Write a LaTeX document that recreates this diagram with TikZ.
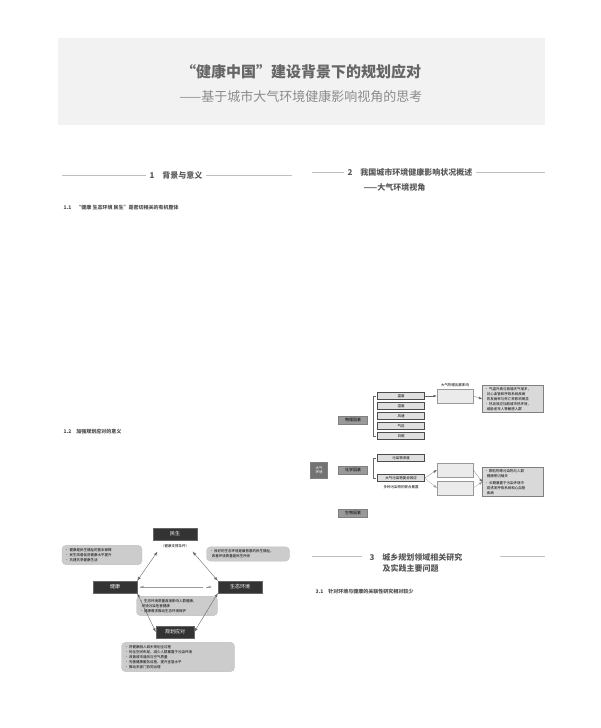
\documentclass[tikz,border=0pt]{standalone}
\usepackage{fontspec}
\setmainfont{Noto Sans CJK SC}
\usetikzlibrary{positioning}
\tikzset{
  darkbox/.style={draw=black!60, fill=black!80, text=white, minimum width=44pt, minimum height=12pt, inner sep=1pt, font=\fontsize{5}{6}\selectfont},
  notebox/.style={draw=black!25, fill=black!20, rounded corners=4pt, align=left, inner sep=3pt, font=\fontsize{3.5}{5}\selectfont},
  subbox/.style={draw=black!70, fill=black!12, minimum width=47pt, minimum height=7pt, inner sep=0pt, font=\fontsize{3.5}{4}\selectfont},
  catbox/.style={draw=black!50, fill=black!40, minimum width=29pt, minimum height=8pt, inner sep=0pt, font=\fontsize{4}{5}\selectfont},
  midbox/.style={draw=black!40, fill=black!8, minimum width=36pt, minimum height=14pt, inner sep=0pt},
  sidenote/.style={draw=black!50, fill=black!15, align=left, inner sep=2pt, font=\fontsize{3.5}{5}\selectfont},
  link/.style={draw=black!60, thin, latex-latex},
  rule/.style={draw=black!25, very thin},
  heading/.style={font=\bfseries\fontsize{8}{11}\selectfont, text=black!65},
  subhead/.style={font=\bfseries\fontsize{5}{6}\selectfont, text=black!70, anchor=west},
}
\begin{document}
\begin{tikzpicture}[x=1pt,y=-1pt]
  \useasboundingbox (0,0) rectangle (600,728);
  % title
  \fill[black!5] (58,38) rectangle (545,125);
  \node[font=\bfseries\fontsize{15}{16}\selectfont, text=black!60] (title) at (301,72) {“健康中国”建设背景下的规划应对};
  \node[font=\fontsize{13}{14}\selectfont, text=black!45] (subtitle) at (301,97) {——基于城市大气环境健康影响视角的思考};
  % section headings
  \node[heading] (sec1) at (176,175) {1\quad 背景与意义};
  \draw[rule] (62,175) -- (sec1.west);
  \draw[rule] (sec1.east) -- (292,175);
  \node[heading, anchor=west] (sec2) at (344,172) {2\quad 我国城市环境健康影响状况概述};
  \node[heading, anchor=west] (sec2b) at (360,187) {——大气环境视角};
  \draw[rule] (312,172) -- (sec2.west);
  \draw[rule] (sec2.east) -- (545,172);
  \node[subhead] (s11) at (60,208) {1.1\quad “健康\ 生态环境\ 民生”是密切相关的有机整体};
  \node[subhead] (s12) at (60,432) {1.2\quad 加强规划应对的意义};
  \node[heading, align=left, anchor=west] (sec3) at (366,563) {3\quad 城乡规划领域相关研究\\\hspace{13pt}及实践主要问题};
  \draw[rule] (312,556) -- (362,556);
  \draw[rule] (500,556) -- (545,556);
  \node[subhead] (s31) at (312,592) {3.1\quad 针对环境与健康的关联性研究相对较少};
  % left diagram
  \node[darkbox] (minsheng) at (175,534) {民生};
  \node[font=\fontsize{3.5}{4}\selectfont, below=1pt of minsheng] (minshengsub) {（健康支撑条件）};
  \node[darkbox] (jiankang) at (115,587) {健康};
  \node[darkbox] (shengtai) at (240,587) {生态环境};
  \node[darkbox, minimum width=38pt] (guihua) at (175,632) {规划应对};
  \node[notebox, text width=74pt] (noteA) at (102,555) {•\ 健康是民生福祉的基本保障\\•\ 民生改善促进健康水平提升\\•\ 共建共享健康生活};
  \node[notebox, text width=77pt] (noteB) at (248,554) {•\ 良好的生态环境是最普惠的民生福祉，\\\ \ 改善环境质量是民生所系};
  \node[notebox, text width=75pt] (noteC) at (177,606) {•\ 生态环境质量直接影响人群健康，\\\ \ 环境污染危害健康\\•\ 健康需求推动生态环境保护};
  \node[notebox, text width=107pt] (noteD) at (178,657) {•\ 将健康融入城乡规划全过程\\•\ 优化空间布局，减少人群暴露于污染环境\\•\ 改善城市通风与空气质量\\•\ 完善健康服务设施，提升宜居水平\\•\ 推动多部门协同治理};
  \draw[link] (jiankang.north east) -- (minshengsub.south west);
  \draw[link] (shengtai.north west) -- (minshengsub.south east);
  \draw[link] (jiankang.south east) -- (guihua.west);
  \draw[link] (shengtai.south west) -- (guihua.east);
  \draw[black!40, very thin, -latex, dashed] (jiankang.east) ++(3,0) coordinate (hj) -- (212,587);
  \draw[black!40, very thin, -latex] (200,587) -- (hj);
  % right diagram
  \node[catbox, minimum width=17pt, minimum height=16pt, align=center, fill=black!55, text=white, font=\fontsize{3.5}{4}\selectfont] (daqi) at (319,470) {大气\\环境};
  \node[catbox] (wuli) at (353,420) {物理因素};
  \node[catbox] (huaxue) at (353,470) {化学因素};
  \node[catbox] (shengwu) at (353,513) {生物因素};
  \foreach \n/\t [count=\i] in {wd/温度, sd/湿度, fs/风速, qy/气压, rz/日照} {
    \node[subbox] (\n) at (401,386+10*\i) {\t};
  }
  \draw[black!60, very thin] (376,396) -- (373,396) -- (373,436) -- (376,436);
  \node[font=\fontsize{3.5}{4}\selectfont] (wulilab) at (455,385) {大气物理因素影响};
  \node[midbox] (wulimid) at (455,396) {};
  \node[sidenote, text width=57pt] (wulinote) at (513,399) {•\ 气温升高与极端天气增多，\\\ \ 对心血管和呼吸系统疾病\\\ \ 的发病率与死亡率影响明显\\•\ 热岛效应加剧城市热环境，\\\ \ 威胁老年人等敏感人群};
  \draw[black!60, very thin, -latex] (wd.east) -- (wulimid.west);
  \draw[black!60, very thin, -latex] (wulimid.east) -- (wulinote.west);
  \node[subbox] (wrw) at (401,458) {污染物浓度};
  \node[subbox] (fh) at (401,478) {大气污染物复合效应};
  \node[font=\fontsize{3.5}{4}\selectfont, below=0pt of fh] (fhlab) {多种污染物的联合暴露};
  \draw[black!60, very thin] (376,458) -- (373,458) -- (373,478) -- (376,478);
  \node[midbox] (hxmid1) at (455,470) {};
  \node[midbox] (hxmid2) at (455,488) {};
  \node[sidenote, text width=57pt] (hxnote) at (513,482) {•\ 颗粒物等污染物与人群\\\ \ 健康密切相关\\[2pt]•\ 长期暴露于污染环境中\\\ \ 易诱发呼吸系统和心血管\\\ \ 疾病};
  \draw[black!60, very thin, -latex] (fh.east) -- (hxmid1.west);
  \draw[black!60, very thin, -latex] (hxmid1.east) -- (hxnote.west);
  \draw[black!40, very thin, -latex] (fh.east) -- (hxmid2.west);
  \draw[black!40, very thin, -latex] (hxmid2.east) -- (hxnote.west);
\end{tikzpicture}
\end{document}
